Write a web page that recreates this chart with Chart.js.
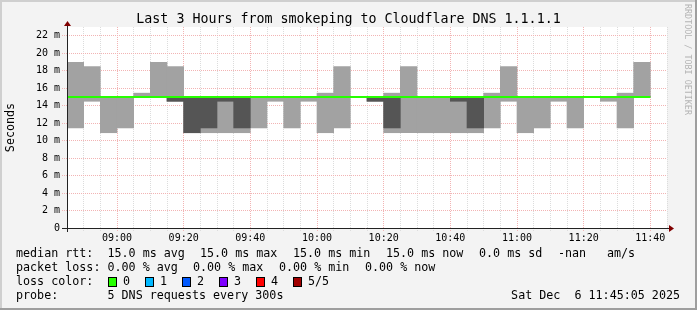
<!DOCTYPE html>
<html>
<head>
<meta charset="utf-8">
<script src="https://cdn.jsdelivr.net/npm/chart.js@4.4.1/dist/chart.umd.min.js"></script>
<style>
  html, body { margin: 0; padding: 0; background: #f3f3f3; }
  canvas { display: block; }
</style>
</head>
<body>
<canvas id="myChart" width="697" height="310"></canvas>
<script>
// start of each 5 minute step
const steps = ['08:45', '08:50', '08:55', '09:00', '09:05', '09:10', '09:15', '09:20', '09:25', '09:30',
  '09:35', '09:40', '09:45', '09:50', '09:55', '10:00', '10:05', '10:10', '10:15', '10:20',
  '10:25', '10:30', '10:35', '10:40', '10:45', '10:50', '10:55', '11:00', '11:05', '11:10',
  '11:15', '11:20', '11:25', '11:30', '11:35'];

// the 5 pings of each step, sorted (ms)
const pingMin = [11.45, 14.5, 10.9, 11.45, 15, 15, 14.5, 10.9, 10.9, 10.9, 10.9, 11.45, 14.5, 11.45, 14.5, 10.9, 11.45, 15,
  14.5, 10.9, 10.9, 10.9, 10.9, 10.9, 10.9, 11.45, 14.5, 10.9, 11.45, 14.5, 11.45, 15, 14.5, 11.45, 15];
const ping2 = [15, 15, 15, 15, 15, 15, 14.5, 10.9, 11.45, 14.5, 11.45, 15, 15, 15, 15, 15, 15, 15,
  14.5, 11.45, 15, 15, 15, 14.5, 11.45, 15, 15, 15, 15, 15, 15, 15, 15, 15, 15];
const median = [15, 15, 15, 15, 15, 15, 15, 15, 15, 15, 15, 15, 15, 15, 15, 15, 15, 15,
  15, 15, 15, 15, 15, 15, 15, 15, 15, 15, 15, 15, 15, 15, 15, 15, 15];
const ping4 = [15, 15, 15, 15, 15, 15, 15, 15, 15, 15, 15, 15, 15, 15, 15, 15, 15, 15,
  15, 15, 15, 15, 15, 15, 15, 15, 15, 15, 15, 15, 15, 15, 15, 15, 15];
const pingMax = [18.96, 18.47, 15, 15, 15.43, 18.96, 18.47, 15, 15, 15, 15, 15, 15, 15, 15, 15.43, 18.47, 15,
  15, 15.43, 18.47, 15, 15, 15, 15, 15.43, 18.47, 15, 15, 15, 15, 15, 15, 15.43, 18.96];

const xTickLabels = ['09:00', '09:20', '09:40', '10:00', '10:20', '10:40', '11:00', '11:20', '11:40'];
const yTickLabels = ['0', '2 m', '4 m', '6 m', '8 m', '10 m', '12 m', '14 m', '16 m', '18 m', '20 m', '22 m'];

const rttStats = ['median rtt:', '15.0 ms avg', '15.0 ms max', '15.0 ms min', '15.0 ms now', '0.0 ms sd', '-nan', 'am/s'];
const lossStats = ['packet loss:', '0.00 % avg', '0.00 % max', '0.00 % min', '0.00 % now'];
const lossLabels = ['0', '1', '2', '3', '4', '5/5'];
const lossColors = ['#26ff00', '#00b8ff', '#0059ff', '#7e00ff', '#ff0000', '#a10000'];
const probeText = '5 DNS requests every 300s';
const stamp = 'Sat Dec  6 11:45:05 2025';

const mono = 'DejaVu Sans Mono';
const toMin = s => { const p = s.split(':'); return Number(p[0]) * 60 + Number(p[1]); };
const fmt = v => String(Math.floor(v / 60)).padStart(2, '0') + ':' + String(v % 60).padStart(2, '0');

let chartArea = document.getElementById('myChart');

const outer = steps.map((s, i) => ({ x: toMin(s) + 2.5, y: [pingMin[i], pingMax[i]] }));
const inner = steps.map((s, i) => ({ x: toMin(s) + 2.5, y: [ping2[i], ping4[i]] }));
const medLine = steps.map((s, i) => ({ x: toMin(s), y: median[i] }));
medLine.push({ x: toMin(steps[steps.length - 1]) + 5, y: median[median.length - 1] });

const decor = {
    id: 'decor',
    beforeDraw(chart) {
        const ctx = chart.ctx;
        const a = chart.chartArea;
        ctx.save();
        ctx.fillStyle = '#f3f3f3';
        ctx.fillRect(0, 0, chart.width, chart.height);
        ctx.fillStyle = '#ffffff';
        ctx.fillRect(a.left, a.top, a.right - a.left, a.bottom - a.top);
        ctx.restore();
    },
    afterDraw(chart) {
        const ctx = chart.ctx;
        const a = chart.chartArea;
        ctx.save();
        // axes
        ctx.strokeStyle = '#222222';
        ctx.lineWidth = 1;
        ctx.beginPath();
        ctx.moveTo(a.left - 5, a.bottom + 0.5);
        ctx.lineTo(a.right + 2, a.bottom + 0.5);
        ctx.moveTo(a.left + 0.5, a.bottom + 4);
        ctx.lineTo(a.left + 0.5, a.top - 1);
        ctx.stroke();
        ctx.fillStyle = '#800000';
        ctx.beginPath();
        ctx.moveTo(a.right + 2, a.bottom - 3);
        ctx.lineTo(a.right + 7, a.bottom + 0.5);
        ctx.lineTo(a.right + 2, a.bottom + 4);
        ctx.fill();
        ctx.beginPath();
        ctx.moveTo(a.left - 3, a.top - 1);
        ctx.lineTo(a.left + 0.5, a.top - 6);
        ctx.lineTo(a.left + 4, a.top - 1);
        ctx.fill();

        // legend lines
        ctx.fillStyle = '#000000';
        ctx.font = '11.7px "' + mono + '"';
        ctx.textBaseline = 'middle';
        const rx = [16, 107.5, 200, 293, 386, 479, 558, 607];
        rttStats.forEach((t, i) => ctx.fillText(t, rx[i], 254));
        const lx = [16, 107.5, 193, 279, 365];
        lossStats.forEach((t, i) => ctx.fillText(t, lx[i], 268));
        ctx.fillText('loss color:', 16, 282);
        lossLabels.forEach((t, i) => {
            const bx = 108 + i * 37;
            ctx.fillStyle = lossColors[i];
            ctx.fillRect(bx, 277, 9, 10);
            ctx.strokeStyle = '#000000';
            ctx.strokeRect(bx + 0.5, 277.5, 8, 9);
            ctx.fillStyle = '#000000';
            ctx.fillText(t, bx + 15, 282);
        });
        ctx.fillText('probe:', 16, 296);
        ctx.fillText(probeText, 107.5, 296);
        ctx.textAlign = 'right';
        ctx.fillText(stamp, 680, 296);

        // watermark
        ctx.save();
        ctx.translate(684, 4);
        ctx.rotate(Math.PI / 2);
        ctx.textAlign = 'left';
        ctx.textBaseline = 'middle';
        ctx.fillStyle = '#b4b4b4';
        ctx.font = '8.4px "' + mono + '"';
        ctx.fillText('RRDTOOL / TOBI OETIKER', 0, -3);
        ctx.restore();

        // frame
        ctx.lineWidth = 2;
        ctx.strokeStyle = '#cfcfcf';
        ctx.beginPath();
        ctx.moveTo(1, chart.height);
        ctx.lineTo(1, 1);
        ctx.lineTo(chart.width, 1);
        ctx.stroke();
        ctx.strokeStyle = '#9e9e9e';
        ctx.beginPath();
        ctx.moveTo(chart.width - 1, 0);
        ctx.lineTo(chart.width - 1, chart.height - 1);
        ctx.lineTo(0, chart.height - 1);
        ctx.stroke();
        ctx.restore();
    }
};

const config = {
    type: 'bar',
    data: {
        datasets: [
            {
                type: 'line', label: 'median rtt', data: medLine, borderColor: '#26ff00',
                borderWidth: 2, pointRadius: 0, stepped: 'after', order: 0
            },
            {
                label: 'smoke inner', data: inner, backgroundColor: '#555555', borderWidth: 0,
                grouped: false, barPercentage: 1, categoryPercentage: 1, order: 1
            },
            {
                label: 'smoke outer', data: outer, backgroundColor: '#a2a2a2', borderWidth: 0,
                grouped: false, barPercentage: 1, categoryPercentage: 1, order: 2
            }
        ]
    },
    options: {
        responsive: false,
        animation: false,
        devicePixelRatio: 1,
        layout: { padding: 0 },
        plugins: {
            legend: { display: false },
            tooltip: { enabled: false },
            title: {
                display: true,
                text: 'Last 3 Hours from smokeping to Cloudflare DNS 1.1.1.1',
                color: '#000000',
                font: { family: mono, size: 13.3, weight: 'normal', lineHeight: '14px' },
                padding: { top: 13, bottom: 0 }
            }
        },
        scales: {
            x: {
                type: 'linear',
                offset: false,
                min: toMin(steps[0]),
                max: toMin(steps[steps.length - 1]) + 10,
                afterFit: s => { s.height = 82; },
                ticks: {
                    stepSize: 5, autoSkip: false, maxRotation: 0, padding: 1, color: '#000000',
                    font: { family: mono, size: 10 },
                    callback: v => xTickLabels.includes(fmt(v)) ? fmt(v) : ''
                },
                grid: {
                    offset: false,
                    color: c => c.tick && xTickLabels.includes(fmt(c.tick.value)) ? '#f2b4b4' : '#dcdcdc',
                    tickLength: 3, tickBorderDash: [1, 1]
                },
                border: { display: false, dash: [1, 1] }
            },
            y: {
                min: 0,
                max: 23,
                afterFit: s => { s.width = 67; },
                ticks: {
                    stepSize: 1, padding: 2, color: '#000000',
                    font: { family: mono, size: 10 },
                    callback: v => v % 2 === 0 ? yTickLabels[v / 2] : ''
                },
                grid: {
                    color: c => c.tick && c.tick.value % 2 === 0 ? '#f2b4b4' : '#dcdcdc',
                    tickLength: 5, tickBorderDash: [1, 1]
                },
                border: { display: false, dash: [1, 1] },
                title: {
                    display: true, text: 'Seconds', color: '#000000',
                    font: { family: mono, size: 11.7 }, padding: { top: 4, bottom: 4 }
                }
            },
            // empty right-hand strip, keeps the plot 30px from the edge
            yRight: {
                position: 'right',
                afterFit: s => { s.width = 30; },
                ticks: { display: false },
                grid: { display: false },
                border: { display: false }
            }
        }
    },
    plugins: [decor]
};

myChart = new Chart(chartArea, config);
</script>
</body>
</html>
